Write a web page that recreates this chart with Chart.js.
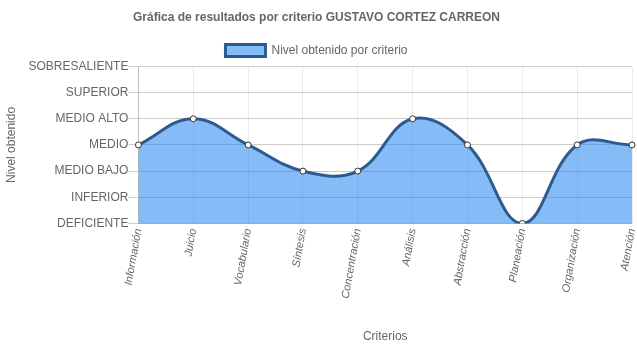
<!DOCTYPE html>
<html>
<head>
<meta charset="utf-8">
<script src="https://cdn.jsdelivr.net/npm/chart.js@4.4.1/dist/chart.umd.min.js"></script>
<style>
  html, body { margin: 0; padding: 0; background: #fff; }
  #wrap { width: 637px; height: 348px; position: relative; }
</style>
</head>
<body>
<div id="wrap"><canvas id="grafica"></canvas></div>
<script>
/* ===== datos ===== */
const criterios = ['Información', 'Juicio', 'Vocabulario', 'Síntesis', 'Concentración',
  'Análisis', 'Abstracción', 'Planeación', 'Organización', 'Atención'];
const niveles = [3, 4, 3, 2, 2, 4, 3, 0, 3, 3];
const nombresNivel = ['DEFICIENTE', 'INFERIOR', 'MEDIO BAJO', 'MEDIO', 'MEDIO ALTO', 'SUPERIOR', 'SOBRESALIENTE'];

Chart.defaults.font.family = 'Arial, "Liberation Sans", Helvetica, sans-serif';
Chart.defaults.color = '#666';

const ctx = document.getElementById('grafica').getContext('2d');
new Chart(ctx, {
  type: 'line',
  data: {
    labels: criterios,
    datasets: [{
      label: 'Nivel obtenido por criterio',
      data: niveles,
      fill: 'origin',
      backgroundColor: 'rgba(33,133,240,0.55)',
      borderColor: '#2e5b8f',
      borderWidth: 3,
      tension: 0.4,
      pointRadius: 3,
      pointBackgroundColor: '#fff',
      pointBorderColor: '#333',
      pointBorderWidth: 1,
    }]
  },
  options: {
    responsive: true,
    maintainAspectRatio: false,
    animation: false,
    layout: { padding: { left: 0, right: 4, top: 0, bottom: 0 } },
    plugins: {
      title: {
        display: true,
        text: 'Gráfica de resultados por criterio GUSTAVO CORTEZ CARREON',
        font: { size: 12, weight: 'bold' },
        color: '#666',
        padding: { top: 10, bottom: 10 }
      },
      legend: {
        labels: {
          boxWidth: 40,
          boxHeight: 12,
          font: { size: 12 },
          color: '#666'
        }
      },
      tooltip: { enabled: false }
    },
    scales: {
      x: {
        // las etiquetas giradas no necesitan el margen derecho extra
        afterFit: scale => { scale.paddingRight = 0; },
        grid: { color: 'rgba(0,0,0,0.08)', tickLength: 0 },
        border: { color: 'rgba(0,0,0,0.15)' },
        ticks: {
          minRotation: 80,
          maxRotation: 80,
          font: { size: 11, style: 'italic' },
          color: '#666',
          padding: 4
        },
        title: { display: true, text: 'Criterios', font: { size: 12 }, color: '#666', padding: { top: 26 } }
      },
      y: {
        min: 0,
        max: 6,
        grid: { color: 'rgba(0,0,0,0.2)', tickLength: 10 },
        border: { color: 'rgba(0,0,0,0.2)' },
        ticks: {
          stepSize: 1,
          font: { size: 12 },
          color: '#666',
          padding: 0,
          callback: v => nombresNivel[v]
        },
        title: { display: true, text: 'Nivel obtenido', font: { size: 12 }, color: '#666', padding: { top: 4, bottom: 10 } }
      }
    }
  }
});
</script>
</body>
</html>
